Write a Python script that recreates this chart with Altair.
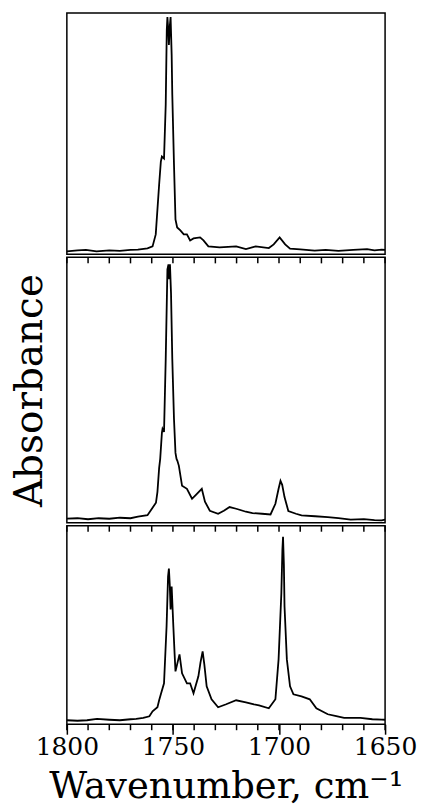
import altair as alt
import pandas as pd

# Wavenumber ticks: minor every 10 cm-1, labelled every 50 cm-1
tick_values = list(range(1650, 1801, 10))
major_values = [1800, 1750, 1700, 1650]

# Top spectrum
wn_top = [1800, 1795, 1791, 1786, 1780, 1775, 1770, 1766.5, 1762, 1759.6, 1758.1, 1756.5,
          1755.7, 1755.2, 1754.2, 1753.4, 1752.9, 1752.6, 1752.2, 1751.9, 1751.5, 1751.1,
          1750.6, 1750.3, 1749.5, 1748.8, 1748.0, 1746.5, 1744.9, 1743.4, 1741.9, 1740.3,
          1737.2, 1735.6, 1733.3, 1728, 1724, 1720.2, 1715.6, 1711, 1704.8, 1702.5, 1699.7,
          1697.1, 1694.8, 1690, 1683.2, 1678, 1672, 1665, 1658.5, 1655, 1651.6, 1650]
ab_top = [3, 4, 4.5, 3, 4, 3.5, 4.5, 4.7, 6, 8, 20, 70,
          93, 98, 96, 150, 225, 238, 225, 210, 228, 238,
          200, 160, 90, 35, 27, 24, 20, 20, 14, 16,
          17, 14, 8, 7, 7.5, 8, 5.3, 8, 6.3, 10, 17,
          10, 5.7, 5, 3.7, 4.5, 3.5, 4.5, 5.3, 4, 4.7, 4.5]

# Middle spectrum
wn_mid = [1800, 1795, 1790, 1785, 1780, 1775, 1770, 1766.5, 1762, 1759.6, 1758, 1757.3,
          1756.5, 1756, 1755.2, 1754.9, 1754.2, 1753.4, 1752.6, 1752.1, 1751.8, 1751.4,
          1750.9, 1750.3, 1749.5, 1748.8, 1748.3, 1747.9, 1747.2, 1745.7, 1743.4, 1741,
          1738.7, 1736.4, 1734.9, 1732.6, 1728.7, 1726, 1723.3, 1720.2, 1715.6, 1712.5,
          1708, 1704, 1701.7, 1700.2, 1699.3, 1698.5, 1697.4, 1695.6, 1692, 1689.4, 1683,
          1677, 1672, 1666.2, 1660, 1655, 1651.6, 1650]
ab_mid = [4, 4.5, 3.5, 4.5, 4, 5, 4.5, 6, 7.5, 15, 20, 31,
          55, 64, 90, 94, 91, 164, 254, 259, 244, 259,
          230, 164, 104, 70, 64, 62, 57, 37, 34, 24,
          29, 34, 21, 12, 9, 12, 15.7, 14, 11, 9.7,
          9, 8.3, 19, 34, 42, 38, 25.7, 11.7, 9, 7.3, 6.5,
          5.7, 4.5, 3, 3.5, 2.5, 2.3, 3]

# Bottom spectrum
wn_bot = [1800, 1795, 1790.5, 1785.8, 1780, 1775, 1770, 1767.3, 1764, 1761.1, 1759.6, 1757.3,
          1756.5, 1755.7, 1754.2, 1753, 1752.3, 1751.9, 1751.5, 1751.1, 1750.6, 1749.8,
          1749.2, 1748.8, 1747.8, 1746.9, 1745.7, 1743.4, 1741.9, 1740.3, 1738, 1737,
          1736, 1735.2, 1734.1, 1731.8, 1728.7, 1724.9, 1720.2, 1715.6, 1711.8, 1709.4,
          1704.8, 1701.7, 1700.2, 1698.9, 1698.4, 1698.1, 1697.7, 1697.4, 1696.3, 1694.8,
          1693.2, 1689.4, 1685.5, 1682.4, 1677, 1673, 1669.3, 1661.6, 1656, 1651.6, 1650]
ab_bot = [4, 3.5, 4, 5.3, 4.5, 4, 5, 5.3, 6.3, 8, 13, 17,
          24, 30, 41, 98, 148, 156, 140, 115, 138, 98,
          70, 53, 62, 70, 51, 41, 41, 31, 48, 62,
          73, 60, 38, 25, 17, 20, 24, 22, 20, 19,
          16, 25, 65, 131, 175, 188, 160, 118, 65, 38,
          30, 28, 25, 16, 10, 8, 6.3, 6.3, 5, 4.7, 4.5]

FONT = "DejaVu Serif"
W = 319
TICK = 6

xscale = alt.Scale(domain=[1650, 1800], reverse=True, nice=False, zero=False)
ticks_df = pd.DataFrame({"wn": tick_values})


def spectrum(wn, ab, h, xaxis, yaxis):
    df = pd.DataFrame({"wn": wn, "ab": ab})
    return alt.Chart(df).mark_line(color="black", strokeWidth=1.8, clip=True).encode(
        x=alt.X("wn:Q", scale=xscale, axis=xaxis),
        y=alt.Y("ab:Q", scale=alt.Scale(domain=[0, h], nice=False, zero=True), axis=yaxis),
    )


def tick_rules(xaxis, y0, y1):
    return alt.Chart(ticks_df).mark_rule(color="black", strokeWidth=1.5).encode(
        x=alt.X("wn:Q", scale=xscale, axis=xaxis),
        y=alt.value(y0), y2=alt.value(y1),
    )


bottom_x = alt.Axis(values=major_values, format="d",
                    labelFlush=False, labelOverlap=False,
                    labelFont=FONT, labelFontSize=25, labelColor="black", labelPadding=0,
                    title="Wavenumber, cm⁻¹", titleFont=FONT, titleFontSize=37,
                    titleFontWeight="normal", titleColor="black", titlePadding=9,
                    domain=False, grid=False, tickSize=10, tickWidth=1.5, tickColor="black")

mid_y = alt.Axis(title="Absorbance", labels=False, ticks=False, domain=False, grid=False,
                 titleFont=FONT, titleFontSize=39, titleFontWeight="normal",
                 titleColor="black", titlePadding=17)

top = spectrum(wn_top, ab_top, 242, None, None).properties(width=W, height=242)

mid = alt.layer(
    spectrum(wn_mid, ab_mid, 266, None, mid_y),
    tick_rules(None, 0, TICK),
).properties(width=W, height=266)

bot = alt.layer(
    spectrum(wn_bot, ab_bot, 199, bottom_x, None),
    tick_rules(bottom_x, 0, TICK),
    tick_rules(bottom_x, 199, 199 + TICK),
).properties(width=W, height=199)

chart = alt.vconcat(top, mid, bot, spacing=0).properties(
    padding={"left": 2, "top": 3, "right": 0, "bottom": 0},
    background="white",
).configure_view(stroke="black", strokeWidth=1.5)

chart.save("out.html", embed_options={"renderer": "svg", "actions": False})
